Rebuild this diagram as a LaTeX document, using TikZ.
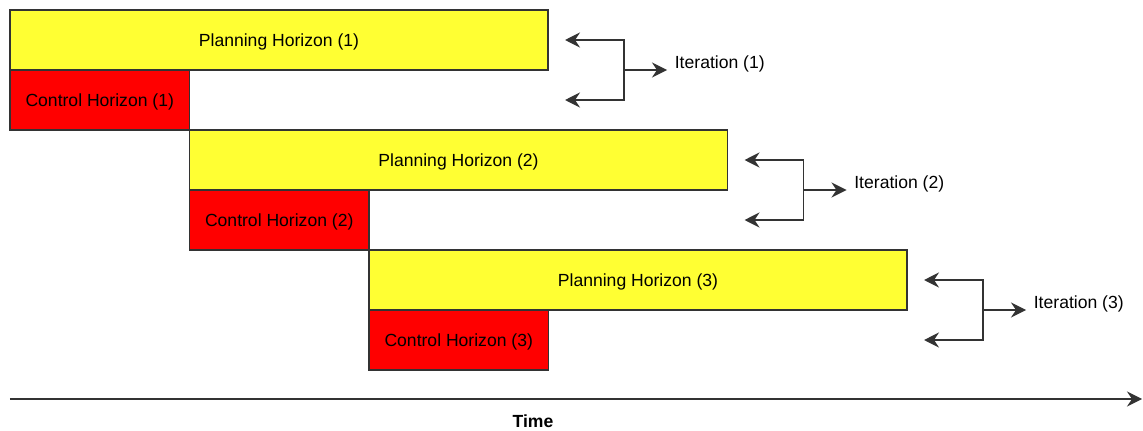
\documentclass[tikz,border=0pt]{standalone}
\usepackage{fontspec}
\setmainfont{Liberation Sans}
\definecolor{planyellow}{RGB}{255, 255, 51}
\definecolor{ctrlred}{RGB}{255, 0, 0}
\usepackage{tikz}
\usetikzlibrary{arrows.meta}
\usetikzlibrary{positioning}
\usetikzlibrary{calc}

\tikzset{
    horizon/.style={draw=black!80, line width=0.8pt, minimum height=1.2cm, inner sep=0pt, outer sep=0pt, text height=9.7pt, text depth=2.1pt, anchor=north west, font=\fontsize{10}{12}\selectfont},
    planbox/.style={horizon, fill=planyellow, minimum width=10.76cm},
    ctrlbox/.style={horizon, fill=ctrlred, minimum width=3.59cm},
    itlabel/.style={anchor=west, inner sep=0.15cm, font=\fontsize{10}{12}\selectfont},
    arr/.style={draw=black!80, line width=0.8pt, ->},
    brk/.style={draw=black!80, line width=0.8pt, <->}
}

\begin{document}
\begin{tikzpicture}[>={Stealth[length=3mm, width=3mm, inset=1mm]}]
        \useasboundingbox (0,0) rectangle (22.86,-8.6);

        % Horizons
        \node[planbox] (p1) at (0.2,-0.2) {Planning Horizon (1)};
        \node[ctrlbox] (c1) at (p1.south west) {Control Horizon (1)};
        \node[planbox] (p2) at (c1.south east) {Planning Horizon (2)};
        \node[ctrlbox] (c2) at (p2.south west) {Control Horizon (2)};
        \node[planbox] (p3) at (c2.south east) {Planning Horizon (3)};
        \node[ctrlbox] (c3) at (p3.south west) {Control Horizon (3)};

        % Iterations
        \foreach \i in {1,2,3} {
            \coordinate (t\i a) at ($(p\i.east)+(0.34,0)$);
            \coordinate (t\i b) at (t\i a |- c\i.center);
            \coordinate (k\i) at ($(t\i b)+(1.18,0)$);
            \node[itlabel] (it\i) at ($(p\i.south east)+(2.38,0.12)$) {Iteration (\i)};
            \draw[brk] (t\i a) -| (k\i) -- (t\i b);
            \draw[arr] (k\i |- p\i.south) -- (p\i.south -| it\i.west);
        }

        % Time axis
        \coordinate (ax0) at (0.2,-7.98);
        \coordinate (ax1) at (22.84,-7.98);
        \draw[arr] (ax0) -- (ax1);
        \node[font=\fontsize{10}{12}\selectfont\bfseries] (time) at (10.66,-8.42) {Time};

    \end{tikzpicture}
\end{document}
